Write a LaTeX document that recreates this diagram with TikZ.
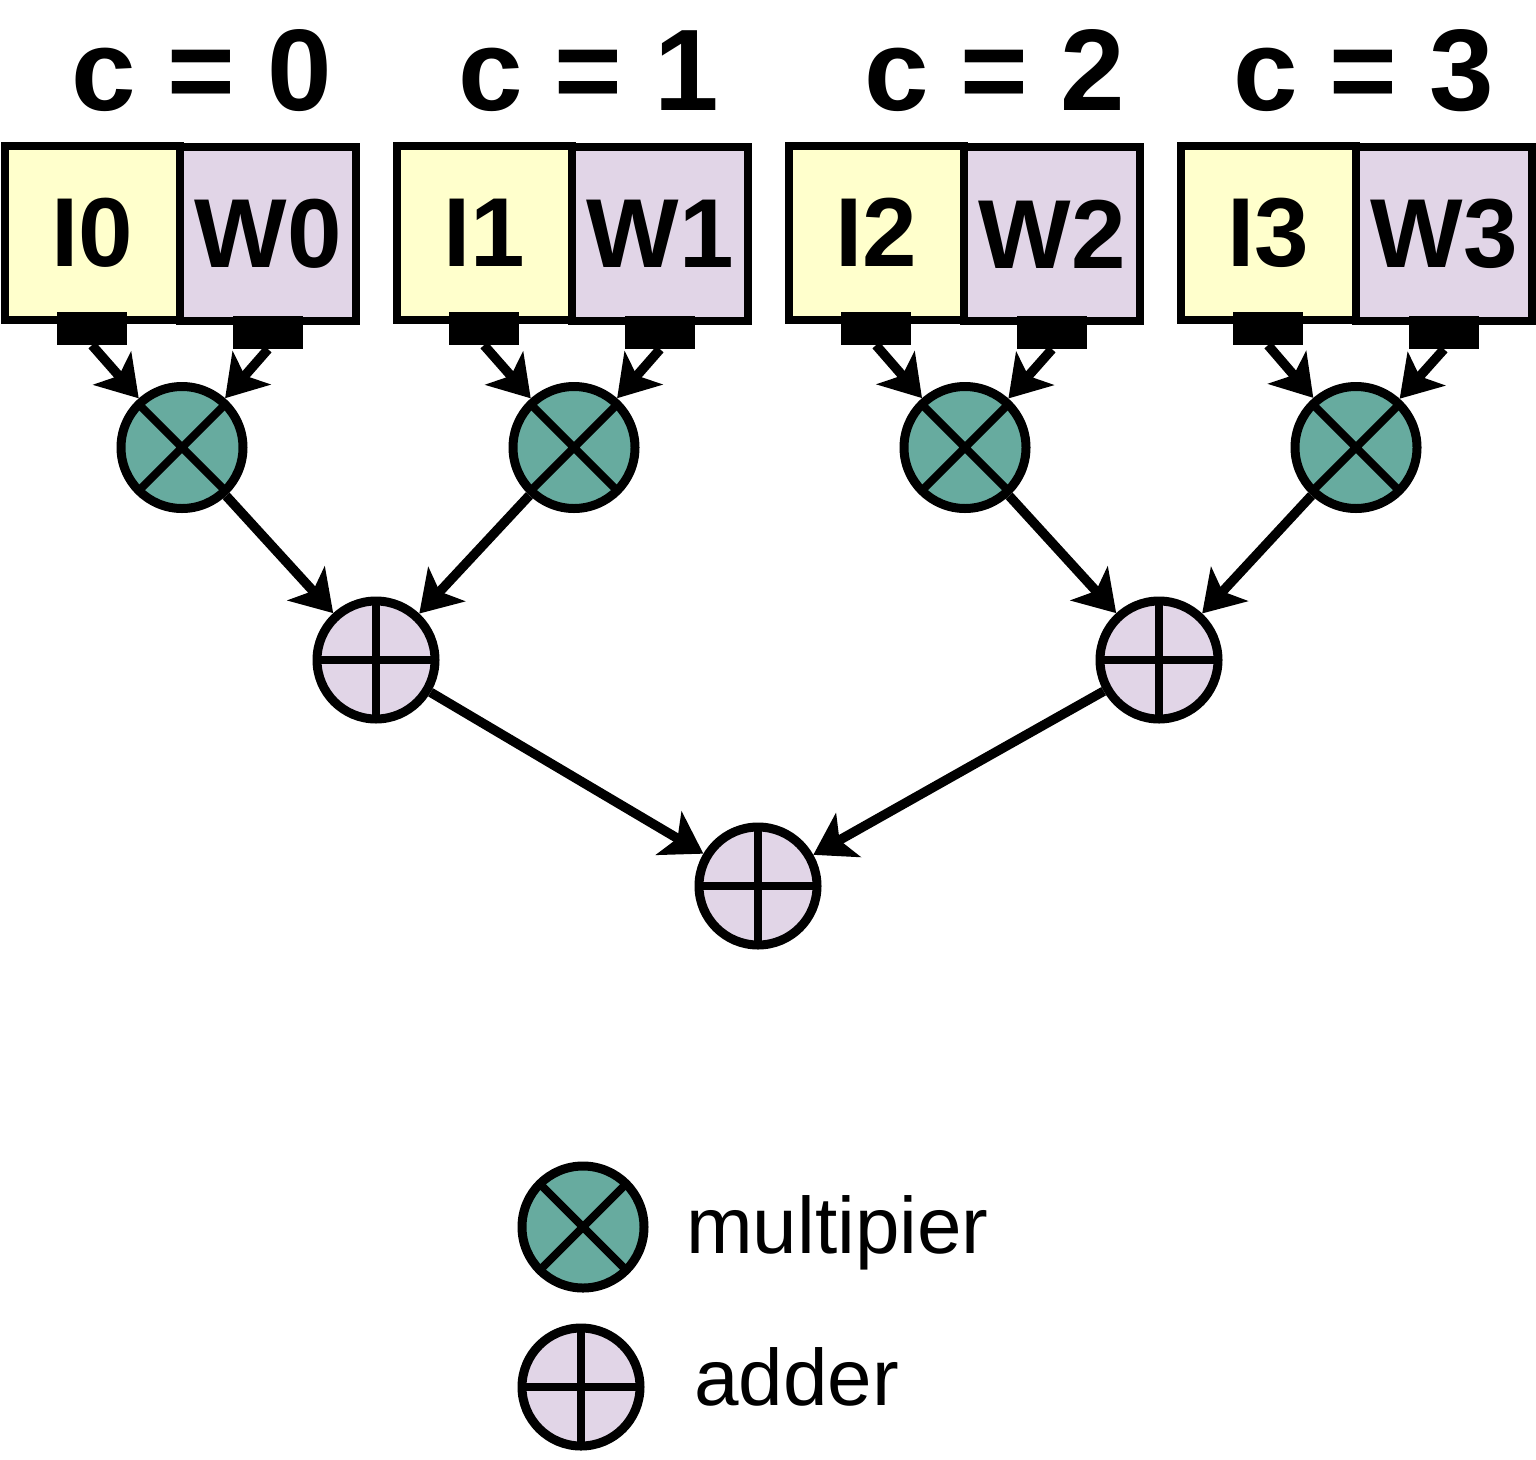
\documentclass[tikz,border=0pt]{standalone}
\usepackage{fontspec}
\setmainfont{Liberation Sans}
\usetikzlibrary{arrows.meta}
\definecolor{iyellow}{HTML}{FFFFCC}
\definecolor{wpurple}{HTML}{E1D5E7}
\definecolor{mteal}{HTML}{67AB9F}
\tikzset{
  ibox/.style={draw, line width=8pt, fill=iyellow, minimum width=175pt, minimum height=174.5pt, inner sep=0pt,
     font=\fontsize{98}{110}\selectfont\bfseries},
  wbox/.style={draw, line width=8pt, fill=wpurple, minimum width=176pt, minimum height=174pt, inner sep=0pt,
     font=\fontsize{98}{110}\selectfont\bfseries},
  port/.style={fill=black, draw=none, minimum width=70pt, minimum height=33pt, inner sep=0pt},
  mult/.style={circle, draw, line width=9pt, fill=mteal, minimum size=122pt, inner sep=0pt,
     path picture={\draw[line width=8pt] (path picture bounding box.north west) -- (path picture bounding box.south east)
                   (path picture bounding box.north east) -- (path picture bounding box.south west);}},
  addr/.style={circle, draw, line width=9pt, fill=wpurple, minimum size=118pt, inner sep=0pt,
     path picture={\draw[line width=8pt] (path picture bounding box.north) -- (path picture bounding box.south)
                   (path picture bounding box.west) -- (path picture bounding box.east);}},
  arr/.style={line width=9.5pt, -{Stealth[length=40pt,width=50pt,inset=10pt]}},
  title/.style={anchor=base west, inner sep=0pt, font=\fontsize{116}{138}\selectfont\bfseries},
  legtext/.style={anchor=base west, inner sep=0pt, font=\fontsize{80}{96}\selectfont}
}
\begin{document}
\begin{tikzpicture}[x=1pt,y=-1pt]
\useasboundingbox (0,0) rectangle (1536,1459);
% titles
\node[title] (t0) at (71,110) {c = 0};
\node[title] (t1) at (458,110) {c = 1};
\node[title] (t2) at (864,110) {c = 2};
\node[title] (t3) at (1233,110) {c = 3};
% boxes, ports, multipliers
\foreach \g/\dx/\mx in {0/0/182, 1/392/574, 2/784/965, 3/1176/1356}{
  \node[ibox] (i\g) at (92.5+\dx,232.75) {I\g};
  \node[wbox] (w\g) at (268+\dx,234) {W\g};
  \node[port] (pi\g) at (92+\dx,328.5) {};
  \node[port] (pw\g) at (268+\dx,332.5) {};
  \node[mult] (m\g) at (\mx,447.5) {};
  \draw[arr] (pi\g.south) -- (m\g);
  \draw[arr] (pw\g.south) -- (m\g);
}
% adders
\node[addr] (a0) at (376,660) {};
\node[addr] (a1) at (1159,660) {};
\node[addr] (af) at (758,886) {};
\draw[arr] (m0) -- (a0);
\draw[arr] (m1) -- (a0);
\draw[arr] (m2) -- (a1);
\draw[arr] (m3) -- (a1);
\draw[arr] (a0) -- (af);
\draw[arr] (a1) -- (af);
% legend
\node[mult] (lm) at (583,1227) {};
\node[legtext] (lmt) at (686,1253) {multipier};
\node[addr] (la) at (581,1387) {};
\node[legtext] (lat) at (694,1405) {adder};
\end{tikzpicture}
\end{document}
